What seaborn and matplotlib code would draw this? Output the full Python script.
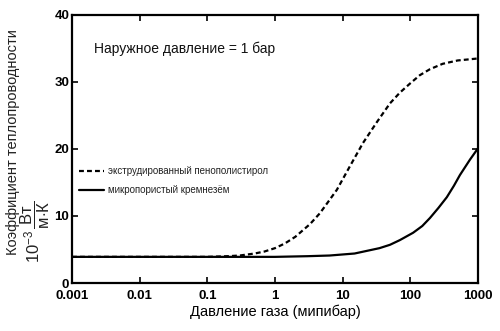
import numpy as np
import pandas as pd
import seaborn as sns
import matplotlib
matplotlib.use("Agg")
import matplotlib.pyplot as plt

# Gas pressure (millibar) and thermal conductivity (10^-3 W/(m·K))
eps_pressure = [0.001, 0.01, 0.1, 0.2, 0.3, 0.5, 0.7, 1.0, 1.4, 2.0, 3.3, 4.6, 6.2, 8.2,
                12.6, 20.0, 32.0, 50.0, 70.0, 100.0, 138.0, 195.0, 300.0, 500.0, 1000.0]
eps_conductivity = [3.9, 3.9, 3.9, 4.0, 4.1, 4.4, 4.7, 5.2, 5.9, 6.9, 8.8, 10.4, 12.2, 13.9,
                    17.3, 20.9, 24.0, 26.8, 28.4, 29.8, 31.0, 31.9, 32.7, 33.2, 33.5]

silica_pressure = [0.001, 0.01, 0.1, 1.0, 3.0, 6.4, 15.0, 35.0, 50.0, 70.0, 110.0,
                   150.0, 195.0, 260.0, 346.0, 440.0, 540.0, 760.0, 1000.0]
silica_conductivity = [3.9, 3.9, 3.9, 3.9, 4.0, 4.1, 4.4, 5.2, 5.7, 6.4, 7.5,
                       8.5, 9.7, 11.2, 12.8, 14.5, 16.1, 18.4, 20.1]

series_names = ["экструдированный пенополистирол", "микропористый кремнезём"]
x_ticks = [0.001, 0.01, 0.1, 1, 10, 100, 1000]
x_tick_labels = ["0.001", "0.01", "0.1", "1", "10", "100", "1000"]
y_ticks = [0, 10, 20, 30, 40]

sns.set_theme(style="ticks")
plt.rcParams["font.family"] = ["Liberation Sans", "DejaVu Sans"]
plt.rcParams["mathtext.fontset"] = "custom"
plt.rcParams["mathtext.rm"] = "Liberation Sans"
plt.rcParams["mathtext.it"] = "Liberation Sans:italic"
plt.rcParams["mathtext.bf"] = "Liberation Sans:bold"

df_eps = pd.DataFrame({"p": eps_pressure, "k": eps_conductivity})
df_sil = pd.DataFrame({"p": silica_pressure, "k": silica_conductivity})

fig = plt.figure(figsize=(5.0, 3.31), dpi=100)
ax = fig.add_axes([0.144, 0.145, 0.812, 0.81])

sns.lineplot(data=df_eps, x="p", y="k", ax=ax, color="black", linewidth=1.6,
             linestyle=(0, (2.2, 1.4)), label=series_names[0])
sns.lineplot(data=df_sil, x="p", y="k", ax=ax, color="black", linewidth=1.6,
             label=series_names[1])

ax.set_xscale("log")
ax.set_xlim(0.001, 1000)
ax.set_ylim(0, 40)
ax.set_xticks(x_ticks)
ax.set_xticklabels(x_tick_labels)
ax.set_yticks(y_ticks)
ax.minorticks_off()
ax.tick_params(direction="in", length=4, width=1.2, top=True, right=True,
               labelsize=9.5, pad=2, colors="black")
ax.tick_params(axis="x", pad=5)
for lab in ax.get_xticklabels() + ax.get_yticklabels():
    lab.set_fontweight("bold")
for s in ax.spines.values():
    s.set_linewidth(1.6)
    s.set_color("black")

ax.set_xlabel("Давление газа (мипибар)", fontsize=10.5, labelpad=2, color="black")
ax.set_ylabel("")

fig.text(0.027, 0.57, "Коэффициент теплопроводности", rotation=90,
         ha="center", va="center", fontsize=10.5, color="#222222")
fig.text(0.07, 0.3, r"$10^{-3}\,\dfrac{\mathrm{Вт}}{\mathrm{м{\cdot}К}}$", rotation=90,
         ha="center", va="center", fontsize=12, color="#222222")

ax.text(0.055, 0.875, "Наружное давление = 1 бар", transform=ax.transAxes,
        fontsize=10, color="#111111", ha="left", va="center")

leg = ax.legend(loc="upper left", bbox_to_anchor=(0.0, 0.46), frameon=False,
                fontsize=7, handlelength=2.6, handletextpad=0.4, labelspacing=0.9,
                borderaxespad=0.3)
for t in leg.get_texts():
    t.set_color("#222222")

fig.savefig("out.png", dpi=100)
